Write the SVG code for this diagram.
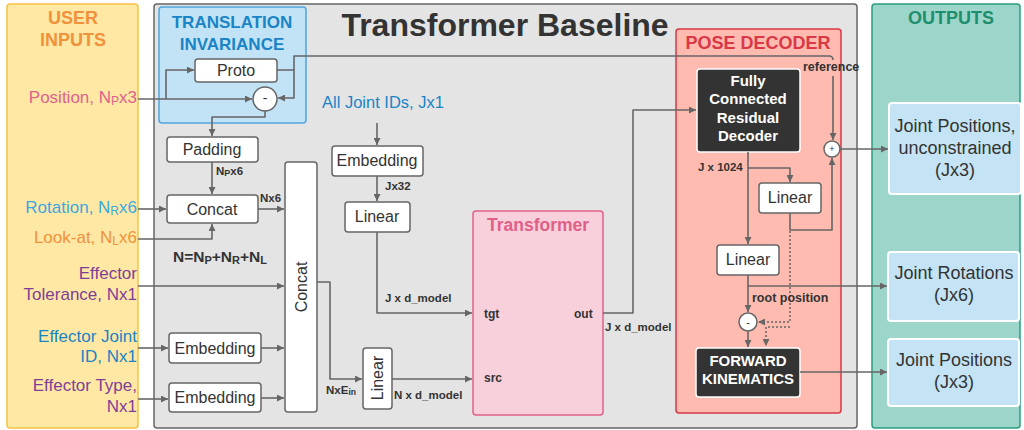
<svg xmlns="http://www.w3.org/2000/svg" width="1024" height="430" viewBox="0 0 1024 430">
<defs>
<marker id="a" viewBox="0 0 10 10" refX="10" refY="5" markerWidth="9" markerHeight="7" markerUnits="userSpaceOnUse" orient="auto"><path d="M0,0 L10,5 L0,10 z" fill="#666"/></marker>
<style>
text{font-family:"Liberation Sans",Arial,sans-serif;fill:#333}
.box{fill:#fff;stroke:#666;stroke-width:1.5}
.blk{fill:#333;stroke:#fff;stroke-width:1.5}
.out{fill:#c4e4f5;stroke:#fff;stroke-width:2}
.bl{font-size:16px;text-anchor:middle}
.wl{font-size:15px;font-weight:bold;fill:#fff;text-anchor:middle}
.ol{font-size:18px;text-anchor:middle}
.in{font-size:17px;text-anchor:end}
.sm{font-size:11.5px;font-weight:bold}
.c{fill:none;stroke:#666;stroke-width:1.6;stroke-linejoin:round}
.d{fill:none;stroke:#666;stroke-width:1.5;stroke-dasharray:2 2}
.ar{marker-end:url(#a)}
.pk{fill:#e0628e}.rb{fill:#3aa8e0}.or{fill:#f0923b}.pu{fill:#7e3f98}.db{fill:#1a84c6}
</style>
</defs>
<g id="user-inputs">
<rect x="7" y="4" width="131" height="424" rx="3" fill="#ffe8a3" stroke="#f5c242" stroke-width="1.5"/>
<text x="73" y="24" font-size="18" font-weight="bold" text-anchor="middle" class="or">USER</text>
<text x="73" y="46" font-size="18" font-weight="bold" text-anchor="middle" class="or">INPUTS</text>
<text x="137" y="103" class="in pk">Position, N<tspan font-size="12" dy="1.5">P</tspan><tspan dy="-1.5">x3</tspan></text>
<text x="137" y="213" class="in rb">Rotation, N<tspan font-size="12" dy="1.5">R</tspan><tspan dy="-1.5">x6</tspan></text>
<text x="137" y="243" class="in or">Look-at, N<tspan font-size="12" dy="1.5">L</tspan><tspan dy="-1.5">x6</tspan></text>
<text x="137" y="279" class="in pu">Effector</text>
<text x="137" y="300" class="in pu">Tolerance, Nx1</text>
<text x="137" y="342" class="in db">Effector Joint</text>
<text x="137" y="362" class="in db">ID, Nx1</text>
<text x="137" y="391" class="in pu">Effector Type,</text>
<text x="137" y="412" class="in pu">Nx1</text>
</g>
<g id="transformer-baseline">
<rect x="154" y="4" width="703" height="424" rx="3" fill="#e4e4e4" stroke="#666" stroke-width="1.5"/>
<text x="505" y="36" font-size="32" font-weight="bold" text-anchor="middle">Transformer Baseline</text>
</g>
<g id="translation-invariance">
<rect x="159" y="7" width="147" height="116" rx="3" fill="#c2e3f5" stroke="#4da7dd" stroke-width="1.5"/>
<text x="232" y="28" font-size="17" font-weight="bold" text-anchor="middle" class="db">TRANSLATION</text>
<text x="232" y="50" font-size="17" font-weight="bold" text-anchor="middle" class="db">INVARIANCE</text>
</g>
<g id="outputs">
<rect x="872" y="4" width="148" height="424" rx="3" fill="#9cd5c9" stroke="#2a9d7f" stroke-width="1.5"/>
<text x="951" y="24" font-size="18" font-weight="bold" text-anchor="middle" style="fill:#1e8f6e">OUTPUTS</text>
</g>
<g id="pose-decoder">
<rect x="676" y="29" width="165" height="384" rx="3" fill="#ffbbb0" stroke="#d93847" stroke-width="1.5"/>
<text x="758" y="49" font-size="18" font-weight="bold" text-anchor="middle" style="fill:#d93847">POSE DECODER</text>
</g>
<g id="proto"><rect class="box" x="195" y="59" width="82" height="23" rx="3"/><text class="bl" x="236" y="76">Proto</text></g>
<g id="minus1"><circle cx="265" cy="99" r="12" fill="#fff" stroke="#666" stroke-width="1.5"/><text x="265" y="103" font-size="14" text-anchor="middle">-</text></g>
<g id="padding"><rect class="box" x="167" y="137" width="91" height="25" rx="3"/><text class="bl" x="212" y="155">Padding</text></g>
<g id="concat-small"><rect class="box" x="167" y="195" width="91" height="28" rx="3"/><text class="bl" x="212" y="215">Concat</text></g>
<g id="concat-big"><rect class="box" x="285" y="162" width="32" height="250" rx="3"/><text class="bl" transform="translate(307 287) rotate(-90)" font-size="18">Concat</text></g>
<g id="embedding-joint"><rect class="box" x="169" y="333" width="92" height="30" rx="3"/><text class="bl" x="215" y="354">Embedding</text></g>
<g id="embedding-type"><rect class="box" x="169" y="383" width="92" height="29" rx="3"/><text class="bl" x="215" y="403">Embedding</text></g>
<g id="embedding-all"><rect class="box" x="332" y="146" width="91" height="30" rx="3"/><text class="bl" x="377" y="166">Embedding</text></g>
<g id="linear-all"><rect class="box" x="345" y="202" width="65" height="30" rx="3"/><text class="bl" x="377" y="222">Linear</text></g>
<g id="linear-src"><rect class="box" x="363" y="348" width="29" height="61" rx="3"/><text class="bl" transform="translate(383 378) rotate(-90)">Linear</text></g>
<g id="all-joint-ids"><text x="322" y="108" font-size="16.5" class="db">All Joint IDs, Jx1</text></g>
<g id="transformer">
<rect x="473" y="211" width="130" height="204" rx="3" fill="#f8d0dc" stroke="#e06088" stroke-width="1.5"/>
<text x="538" y="231" font-size="17.5" font-weight="bold" text-anchor="middle" style="fill:#e06088">Transformer</text>
<text x="484" y="318" font-size="12" font-weight="bold">tgt</text>
<text x="574" y="318" font-size="12" font-weight="bold">out</text>
<text x="484" y="382" font-size="12" font-weight="bold">src</text>
</g>
<g id="fcrd"><rect class="blk" x="697" y="69" width="103" height="83" rx="3"/>
<text class="wl" x="748" y="86">Fully</text><text class="wl" x="748" y="104">Connected</text><text class="wl" x="748" y="123">Residual</text><text class="wl" x="748" y="141">Decoder</text></g>
<g id="linear1"><rect class="box" x="759" y="183" width="62" height="30" rx="3"/><text class="bl" x="790" y="203">Linear</text></g>
<g id="linear2"><rect class="box" x="717" y="245" width="62" height="30" rx="3"/><text class="bl" x="748" y="265">Linear</text></g>
<g id="plus"><circle cx="832" cy="149" r="8" fill="#fff" stroke="#666" stroke-width="1.5"/><text x="832" y="152" font-size="9" text-anchor="middle">+</text></g>
<g id="minus2"><circle cx="748" cy="322" r="9" fill="#fff" stroke="#666" stroke-width="1.5"/><text x="748" y="326" font-size="11" text-anchor="middle">-</text></g>
<g id="fk"><rect class="blk" x="696" y="348" width="104" height="49" rx="3"/><text class="wl" x="748" y="366">FORWARD</text><text class="wl" x="748" y="384">KINEMATICS</text></g>
<g id="out-joint-pos-unc"><rect class="out" x="889" y="103" width="132" height="91" rx="3"/><text class="ol" x="955" y="132">Joint Positions,</text><text class="ol" x="955" y="154">unconstrained</text><text class="ol" x="955" y="176">(Jx3)</text></g>
<g id="out-joint-rot"><rect class="out" x="888" y="252" width="131" height="69" rx="3"/><text class="ol" x="954" y="279">Joint Rotations</text><text class="ol" x="954" y="301">(Jx6)</text></g>
<g id="out-joint-pos"><rect class="out" x="888" y="339" width="131" height="67" rx="3"/><text class="ol" x="954" y="366">Joint Positions</text><text class="ol" x="954" y="388">(Jx3)</text></g>
<g id="connectors">
<path class="c ar" d="M138,99 H252"/>
<path class="c ar" d="M166,99 V70 H194"/>
<path class="c ar" d="M277,70 H294 V98 H278"/>
<path class="c" d="M294,70 V56 H829 Q833,56 833,60"/>
<path class="c ar" d="M833,76 V140"/>
<path class="c ar" d="M265,111 V117 H212 V136"/>
<path class="c ar" d="M212,162 V194"/>
<path class="c ar" d="M138,209 H166"/>
<path class="c ar" d="M138,239 H212 V224"/>
<path class="c ar" d="M258,209 H284"/>
<path class="c ar" d="M138,286 H284"/>
<path class="c ar" d="M138,348 H168"/>
<path class="c ar" d="M261,348 H284"/>
<path class="c ar" d="M138,399 H168"/>
<path class="c ar" d="M261,398 H284"/>
<path class="c ar" d="M317,282 H330 V379 H362"/>
<path class="c ar" d="M392,379 H472"/>
<path class="c ar" d="M377,123 V145"/>
<path class="c ar" d="M377,176 V201"/>
<path class="c ar" d="M377,232 V313 H472"/>
<path class="c ar" d="M603,313 H633 V110 H696"/>
<path class="c ar" d="M748,152 V244"/>
<path class="c ar" d="M748,168 H790 V182"/>
<path class="c ar" d="M790,213 V230 H832 V158"/>
<path class="d ar" d="M790,231 V322 H758"/>
<path class="d ar" d="M790,327 H766 V346"/>
<path class="c ar" d="M748,275 V312"/>
<path class="c ar" d="M748,286 H887"/>
<path class="c ar" d="M748,331 V347"/>
<path class="c ar" d="M800,372 H887"/>
<path class="c ar" d="M840,149 H888"/>
</g>
<g id="labels">
<text class="sm" x="216" y="175">N<tspan font-size="9" dy="1">P</tspan><tspan dy="-1">x6</tspan></text>
<text class="sm" x="260" y="202">Nx6</text>
<text x="173" y="262" font-size="15.5" font-weight="bold">N=N<tspan font-size="11" dy="1.5">P</tspan><tspan dy="-1.5">+N</tspan><tspan font-size="11" dy="1.5">R</tspan><tspan dy="-1.5">+N</tspan><tspan font-size="11" dy="1.5">L</tspan></text>
<text class="sm" x="385" y="190">Jx32</text>
<text class="sm" x="385" y="302">J x d_model</text>
<text class="sm" x="605" y="331">J x d_model</text>
<text class="sm" x="326" y="394">NxE<tspan font-size="8.5" dy="1">in</tspan></text>
<text class="sm" x="394" y="399">N x d_model</text>
<text class="sm" x="698" y="171">J x 1024</text>
<text x="803" y="71" font-size="12.5" font-weight="bold">reference</text>
<text x="752" y="302" font-size="12.5" font-weight="bold">root position</text>
</g>
</svg>
